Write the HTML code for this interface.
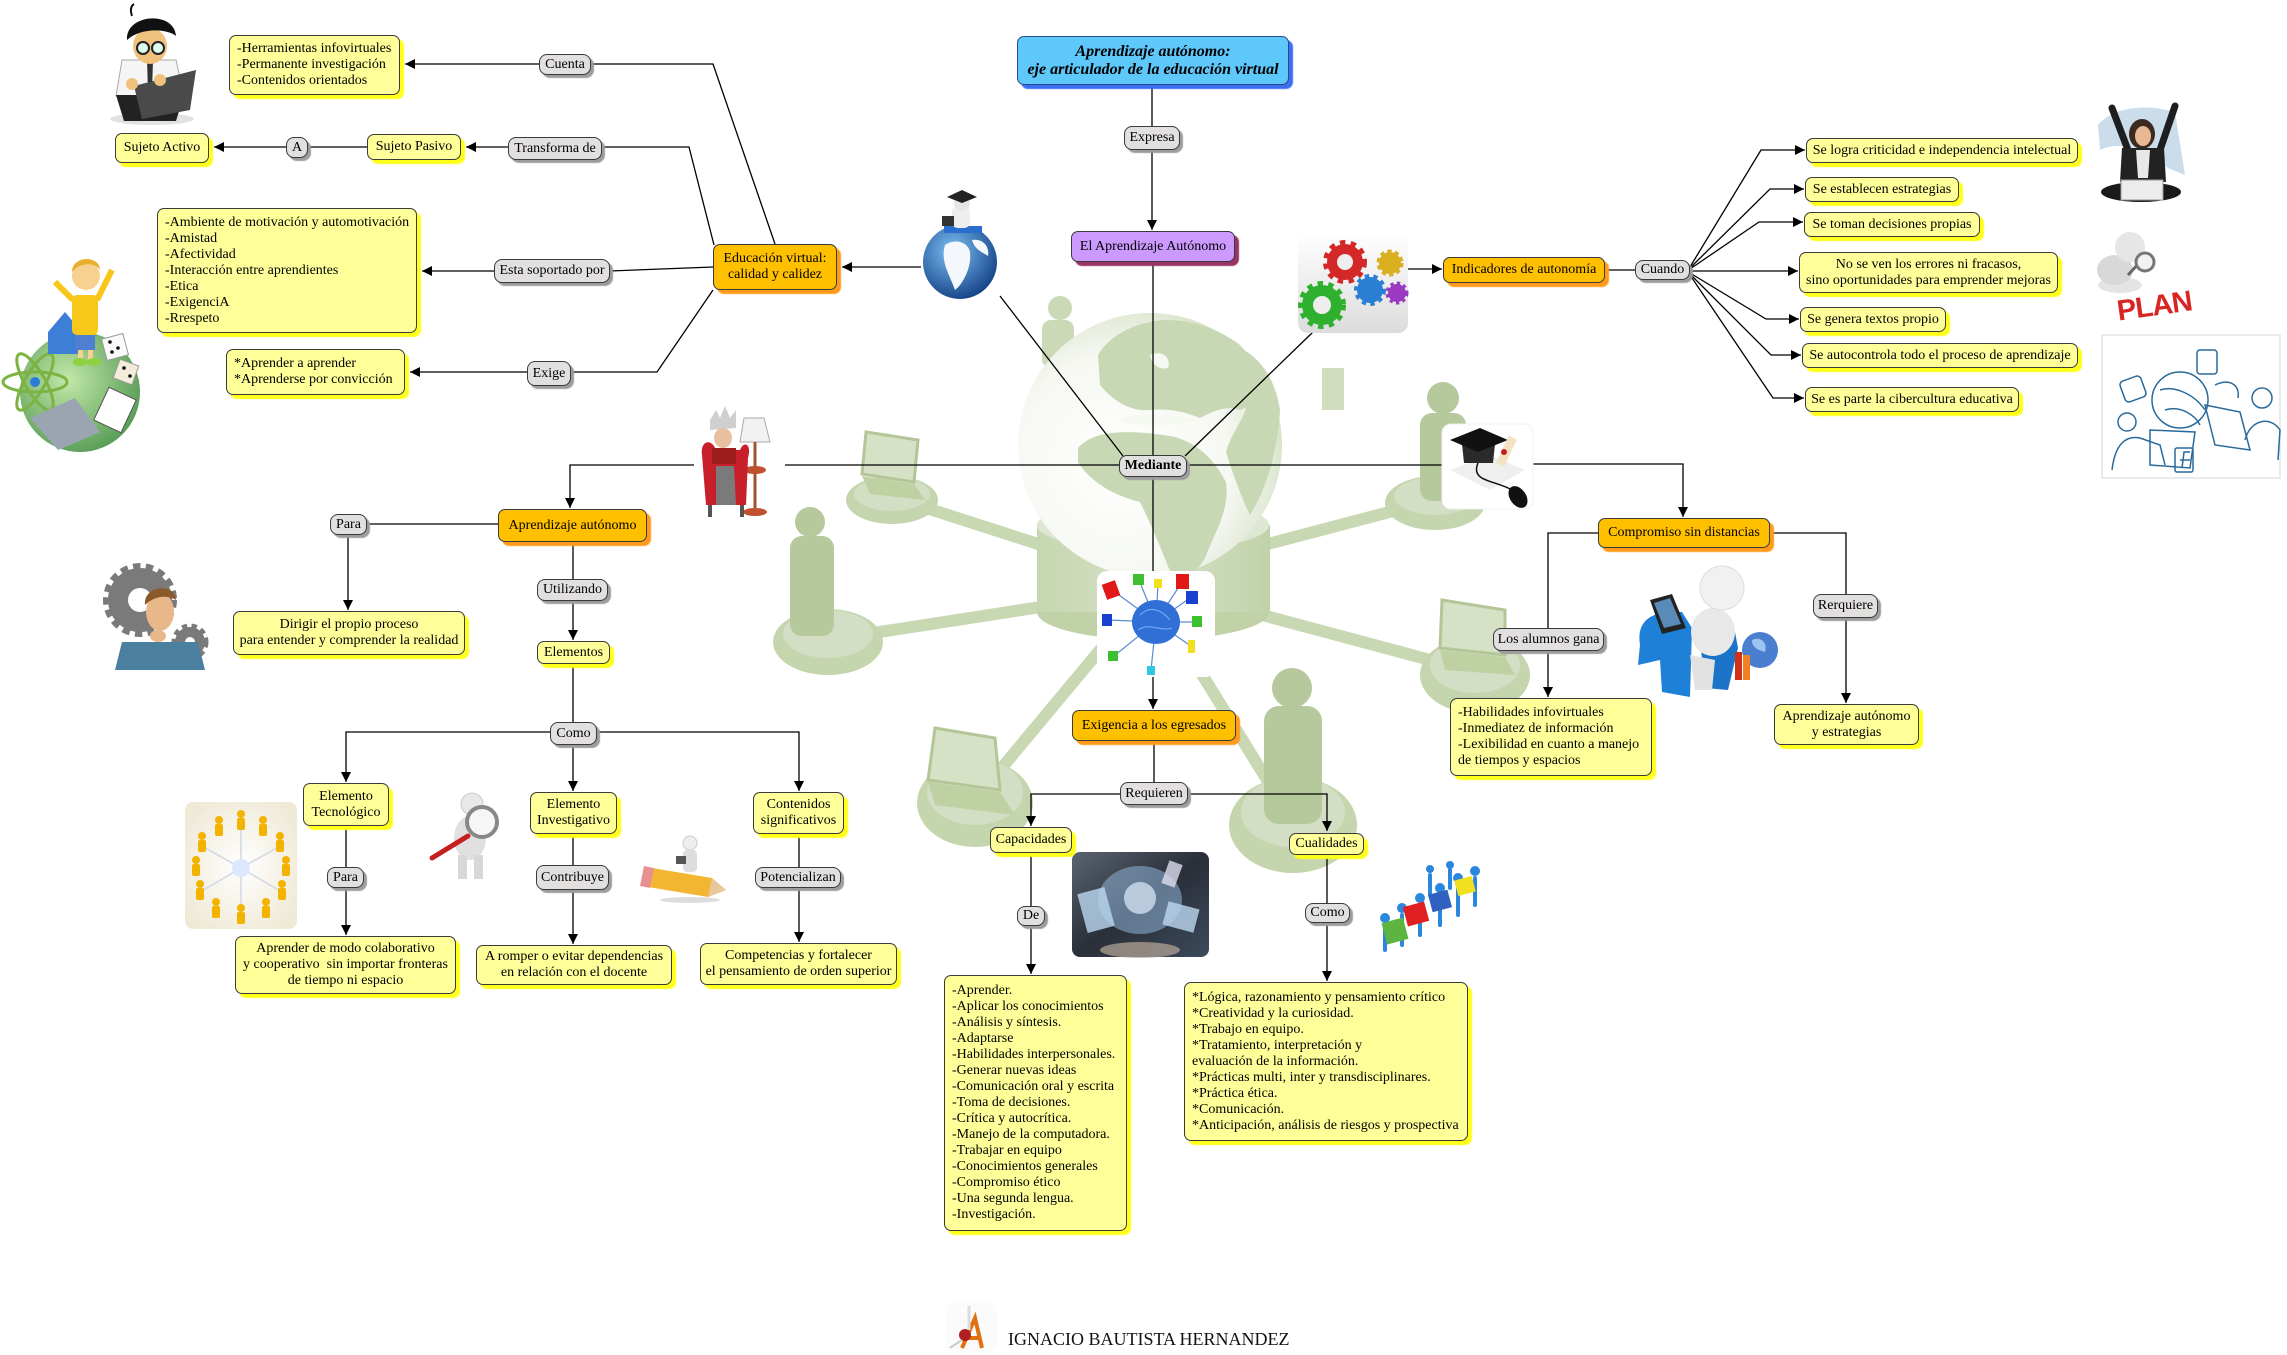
<!DOCTYPE html>
<html><head><meta charset="utf-8">
<style>
html,body{margin:0;padding:0;}
body{width:2287px;height:1355px;position:relative;background:#fff;overflow:hidden;font-family:"Liberation Serif",serif;}
.b{position:absolute;box-sizing:border-box;border:1px solid #3a3a3a;border-radius:7px;font-size:14px;line-height:16px;display:flex;flex-direction:column;justify-content:center;align-items:center;text-align:center;white-space:nowrap;color:#000;}
.y{background:#ffff99;box-shadow:4px 4px 1px #ffff1a;}
.o{background:#ffc000;box-shadow:4px 4px 1px #ff9a1a;}
.g{background:#e2dfdf;box-shadow:3px 3px 1px #9c9c9c;border-radius:8px;}
.p{background:#cc99ff;box-shadow:4px 4px 1px #993366;}
.t{background:#5ec8fb;box-shadow:4px 4px 1px #3c6ff0;border-color:#2a4a90;font-weight:bold;font-style:italic;font-size:16px;line-height:18px;}
.l{align-items:flex-start;text-align:left;padding-left:7px;}
svg{position:absolute;left:0;top:0;}
.ft{position:absolute;left:1008px;top:1329px;font-size:18px;line-height:20px;color:#111;white-space:nowrap;}
</style></head><body>
<svg width="2287" height="1355" viewBox="0 0 2287 1355">
<defs>
<marker id="ah" markerWidth="10" markerHeight="10" refX="10" refY="5" orient="auto" markerUnits="userSpaceOnUse"><path d="M0,0 L10,5 L0,10 z" fill="#000"/></marker>
<radialGradient id="gl" cx="38%" cy="58%" r="70%"><stop offset="0" stop-color="#ffffff"/><stop offset="0.6" stop-color="#f6f8f2"/><stop offset="0.85" stop-color="#dfe8d3"/><stop offset="1" stop-color="#c4d4ad"/></radialGradient>
<radialGradient id="bg1" cx="40%" cy="40%" r="70%"><stop offset="0" stop-color="#c2e8a8"/><stop offset="1" stop-color="#4f9650"/></radialGradient>
<radialGradient id="bl1" cx="40%" cy="35%" r="70%"><stop offset="0" stop-color="#7cc0f4"/><stop offset="1" stop-color="#123f85"/></radialGradient>
<linearGradient id="gw" x1="0" y1="0" x2="0" y2="1"><stop offset="0" stop-color="#fff"/><stop offset="1" stop-color="#dcdcdc"/></linearGradient>
<linearGradient id="th" x1="0" y1="0" x2="1" y2="1"><stop offset="0" stop-color="#5a6470"/><stop offset="0.5" stop-color="#2a2f38"/><stop offset="1" stop-color="#3c4a5c"/></linearGradient>
<radialGradient id="pc" cx="50%" cy="50%" r="60%"><stop offset="0" stop-color="#ffffff"/><stop offset="1" stop-color="#efe9d6"/></radialGradient>
<linearGradient id="cyl" x1="0" y1="0" x2="1" y2="0"><stop offset="0" stop-color="#c4d5ab"/><stop offset="0.5" stop-color="#d6e1c8"/><stop offset="1" stop-color="#bed0a4"/></linearGradient>
</defs>

<!-- background network -->
<g opacity="0.95">
<g stroke="#c6d6af" stroke-width="12" stroke-linecap="round">
<line x1="1150" y1="580" x2="892" y2="497"/>
<line x1="1150" y1="590" x2="828" y2="640"/>
<line x1="1150" y1="590" x2="975" y2="800"/>
<line x1="1150" y1="590" x2="1293" y2="822"/>
<line x1="1150" y1="585" x2="1475" y2="672"/>
<line x1="1150" y1="575" x2="1435" y2="500"/>
</g>
<ellipse cx="1153" cy="612" rx="116" ry="28" fill="#bed0a4"/>
<rect x="1037" y="525" width="233" height="87" fill="url(#cyl)"/>
<ellipse cx="1153" cy="525" rx="116" ry="26" fill="#dce6cf"/>
<!-- faded small person behind globe -->
<circle cx="1060" cy="308" r="12" fill="#c9d8b4"/>
<rect x="1042" y="320" width="32" height="48" rx="9" fill="#c9d8b4"/>
<rect x="1322" y="368" width="22" height="42" fill="#d0dcbd"/>
<circle cx="1150" cy="445" r="132" fill="url(#gl)"/>
<g fill="#c6d5b1">
<path d="M1098,355 C1110,335 1135,322 1165,320 C1195,320 1220,330 1240,345 L1262,370 C1265,390 1255,405 1240,410 C1225,405 1212,412 1200,418 C1185,412 1170,408 1150,410 C1130,412 1112,400 1100,385 Z"/>
<path d="M1244,350 C1262,360 1276,382 1280,410 C1278,450 1266,490 1250,515 C1240,495 1232,470 1226,452 C1232,432 1242,422 1246,408 Z"/>
<path d="M1078,448 C1095,428 1135,430 1175,437 C1198,444 1213,458 1226,482 C1230,510 1215,532 1205,558 C1196,575 1182,580 1172,576 C1160,546 1150,522 1140,502 C1115,496 1090,482 1078,462 Z"/>
</g>
<g fill="#f6f8f2">
<path d="M1118,420 C1140,412 1170,414 1198,420 C1175,427 1140,428 1118,420 Z"/>
<path d="M1150,355 C1160,350 1172,356 1168,368 C1160,370 1152,366 1150,355 Z"/>
</g>
<!-- discs -->
<g fill="#c2d3a9">
<ellipse cx="892" cy="500" rx="46" ry="24"/>
<ellipse cx="828" cy="642" rx="55" ry="33"/>
<ellipse cx="975" cy="803" rx="58" ry="44"/>
<ellipse cx="1293" cy="825" rx="64" ry="48"/>
<ellipse cx="1475" cy="675" rx="55" ry="38"/>
<ellipse cx="1435" cy="503" rx="50" ry="27"/>
</g>
<g fill="#d2ddc1">
<ellipse cx="892" cy="494" rx="38" ry="17"/>
<ellipse cx="828" cy="634" rx="45" ry="24"/>
<ellipse cx="975" cy="792" rx="48" ry="33"/>
<ellipse cx="1293" cy="812" rx="52" ry="35"/>
<ellipse cx="1475" cy="665" rx="45" ry="28"/>
<ellipse cx="1435" cy="496" rx="41" ry="19"/>
</g>
<!-- persons -->
<g fill="#b3c797">
<circle cx="810" cy="522" r="15"/><rect x="790" y="536" width="44" height="100" rx="12"/>
<circle cx="1292" cy="688" r="20"/><rect x="1264" y="706" width="58" height="118" rx="15"/>
<circle cx="1443" cy="398" r="16"/><rect x="1420" y="413" width="46" height="88" rx="12"/>
</g>
<!-- laptops -->
<g fill="#d4e0c3" stroke="#b0c493" stroke-width="3">
<path d="M866,432 L918,440 L914,482 L862,474 Z"/>
<path d="M935,728 L995,738 L1000,790 L928,780 Z"/>
<path d="M1442,600 L1505,610 L1505,655 L1440,648 Z"/>
</g>
<g fill="#bccf9f">
<path d="M862,476 L914,484 L925,500 L870,494 Z"/>
<path d="M928,782 L1000,792 L1015,815 L935,805 Z"/>
<path d="M1440,650 L1505,657 L1515,675 L1445,670 Z"/>
</g>
</g>

<!-- connectors -->
<g fill="none" stroke="#000" stroke-width="1.3">
<path d="M1152,85 V126"/>
<path d="M1152,150 V230" marker-end="url(#ah)"/>
<path d="M1153,262 V455"/>
<path d="M1000,296 L1123,456"/>
<path d="M1313,332 L1185,456"/>
<path d="M1153,477 V571"/>
<path d="M1153,677 V709" marker-end="url(#ah)"/>
<path d="M1154,741 V782"/>
<path d="M1120,794 H1031 V826" marker-end="url(#ah)"/>
<path d="M1188,794 H1327 V831" marker-end="url(#ah)"/>
<path d="M1031,853 V906"/>
<path d="M1031,926 V974" marker-end="url(#ah)"/>
<path d="M1327,855 V903"/>
<path d="M1327,923 V981" marker-end="url(#ah)"/>
<path d="M1119,465 H785"/>
<path d="M694,465 H570 V508" marker-end="url(#ah)"/>
<path d="M1187,465 H1442"/>
<path d="M1533,464 H1683 V517" marker-end="url(#ah)"/>
<path d="M1598,533 H1548 V628"/>
<path d="M1548,651 V697" marker-end="url(#ah)"/>
<path d="M1770,533 H1846 V594"/>
<path d="M1846,618 V703" marker-end="url(#ah)"/>
<path d="M1408,269 H1442" marker-end="url(#ah)"/>
<path d="M1605,270 H1635"/>
<path d="M1690,267 L1761,150 H1805" marker-end="url(#ah)"/>
<path d="M1690,268 L1770,189 H1804" marker-end="url(#ah)"/>
<path d="M1690,269 L1759,222 H1803" marker-end="url(#ah)"/>
<path d="M1690,271 H1798" marker-end="url(#ah)"/>
<path d="M1690,273 L1766,319 H1799" marker-end="url(#ah)"/>
<path d="M1690,274 L1771,355 H1801" marker-end="url(#ah)"/>
<path d="M1690,275 L1773,398 H1804" marker-end="url(#ah)"/>
<path d="M921,267 H842" marker-end="url(#ah)"/>
<path d="M775,244 L713,64 H591"/>
<path d="M539,64 H405" marker-end="url(#ah)"/>
<path d="M714,245 L689,147 H602"/>
<path d="M508,147 H466" marker-end="url(#ah)"/>
<path d="M367,147 H308"/>
<path d="M286,147 H214" marker-end="url(#ah)"/>
<path d="M713,267 L610,271"/>
<path d="M494,271 H422" marker-end="url(#ah)"/>
<path d="M713,290 L657,372 H571"/>
<path d="M527,372 H410" marker-end="url(#ah)"/>
<path d="M498,524 H367"/>
<path d="M348,535 V610" marker-end="url(#ah)"/>
<path d="M573,542 V579"/>
<path d="M573,601 V640" marker-end="url(#ah)"/>
<path d="M573,664 V722"/>
<path d="M550,732 H346 V782" marker-end="url(#ah)"/>
<path d="M573,745 V791" marker-end="url(#ah)"/>
<path d="M597,732 H799 V791" marker-end="url(#ah)"/>
<path d="M346,826 V867"/>
<path d="M346,888 V935" marker-end="url(#ah)"/>
<path d="M573,834 V865"/>
<path d="M573,890 V944" marker-end="url(#ah)"/>
<path d="M799,834 V867"/>
<path d="M799,888 V942" marker-end="url(#ah)"/>
</g>

<!-- images -->
<!-- nerd -->
<g>
<ellipse cx="152" cy="119" rx="42" ry="6" fill="#e2e2e2"/>
<path d="M122,60 L176,60 L184,96 L116,96 Z" fill="#f5f5f5" stroke="#aaa"/>
<path d="M147,60 L153,60 L152,92 L148,92Z" fill="#333"/>
<path d="M116,95 L184,95 L176,121 L124,121Z" fill="#222"/>
<path d="M134,86 L196,70 L190,110 L142,119 Z" fill="#4a4a4a"/>
<circle cx="132" cy="84" r="6" fill="#f1c27d"/><circle cx="160" cy="80" r="6" fill="#f1c27d"/>
<ellipse cx="150" cy="46" rx="17" ry="18" fill="#f1c27d"/>
<path d="M127,40 C125,14 174,10 176,36 C166,28 140,28 127,40 Z" fill="#111"/>
<path d="M132,16 C130,10 131,6 134,4" stroke="#111" stroke-width="2" fill="none"/>
<circle cx="143" cy="48" r="6" fill="#dfe" stroke="#222" stroke-width="2"/><circle cx="158" cy="48" r="6" fill="#dfe" stroke="#222" stroke-width="2"/>
</g>
<!-- boy on globe -->
<g>
<circle cx="80" cy="392" r="60" fill="url(#bg1)"/>
<g fill="none" stroke="#7cb342" stroke-width="3">
<ellipse cx="35" cy="382" rx="32" ry="10" transform="rotate(60 35 382)"/>
<ellipse cx="35" cy="382" rx="32" ry="10" transform="rotate(-60 35 382)"/>
<ellipse cx="35" cy="382" rx="32" ry="10"/>
</g>
<circle cx="35" cy="382" r="5" fill="#2d7bd6"/>
<path d="M30,418 L75,398 L100,432 L58,450 Z" fill="#9aa5b1"/>
<path d="M48,332 L65,312 L82,332 L82,354 L48,354 Z" fill="#3d7fd6"/>
<rect x="72" y="295" width="26" height="40" rx="5" fill="#f7c71a"/>
<path d="M73,300 L55,282 M97,300 L112,270" stroke="#f7c71a" stroke-width="6"/>
<circle cx="86" cy="276" r="14" fill="#f8d090"/>
<path d="M72,272 C72,255 100,255 100,270 C95,262 80,262 72,272Z" fill="#e8b030"/>
<rect x="75" y="335" width="20" height="15" fill="#4f7fd0"/>
<rect x="78" y="350" width="5" height="10" fill="#f8d090"/><rect x="88" y="350" width="5" height="10" fill="#f8d090"/>
<ellipse cx="80" cy="362" rx="7" ry="4" fill="#8fd040"/><ellipse cx="94" cy="362" rx="7" ry="4" fill="#8fd040"/>
<rect x="104" y="336" width="22" height="22" fill="#fafafa" stroke="#999" transform="rotate(-15 115 347)"/>
<rect x="116" y="362" width="20" height="20" fill="#f3ecd8" stroke="#999" transform="rotate(20 126 372)"/>
<g fill="#111"><circle cx="110" cy="342" r="1.8"/><circle cx="118" cy="348" r="1.8"/><circle cx="112" cy="352" r="1.8"/><circle cx="124" cy="368" r="1.8"/><circle cx="130" cy="376" r="1.8"/></g>
<rect x="100" y="392" width="30" height="36" fill="#fff" stroke="#555" transform="rotate(25 115 410)"/>
</g>
<!-- globe graduate -->
<g>
<circle cx="960" cy="262" r="37" fill="url(#bl1)"/>
<path d="M945,245 C955,238 968,242 970,252 C972,268 962,285 955,290 C950,275 940,262 945,245Z" fill="#f4f8fc"/>
<path d="M972,240 C982,238 990,246 988,256 C982,252 975,250 972,240Z" fill="#f4f8fc"/>
<rect x="944" y="226" width="38" height="7" fill="#2a6fd0"/>
<rect x="952" y="206" width="18" height="22" rx="6" fill="#eee"/>
<circle cx="962" cy="203" r="8" fill="#e6e6e6"/>
<path d="M947,197 L962,190 L977,197 L962,203 Z" fill="#222"/>
<rect x="942" y="216" width="12" height="10" fill="#333"/>
</g>
<!-- gears -->
<g>
<rect x="1298" y="233" width="110" height="100" rx="10" fill="url(#gw)"/>
<circle cx="1345" cy="262" r="18" fill="#d42828" stroke="#d42828" stroke-width="8" stroke-dasharray="5 5"/>
<circle cx="1345" cy="262" r="8" fill="#eee"/>
<circle cx="1322" cy="305" r="20" fill="#2fb12f" stroke="#2fb12f" stroke-width="8" stroke-dasharray="5 5"/>
<circle cx="1322" cy="305" r="9" fill="#eee"/>
<circle cx="1370" cy="290" r="13" fill="#2a7fd4" stroke="#2a7fd4" stroke-width="6" stroke-dasharray="4 4"/>
<circle cx="1390" cy="263" r="11" fill="#d8b020" stroke="#d8b020" stroke-width="5" stroke-dasharray="4 3"/>
<circle cx="1397" cy="293" r="9" fill="#9a3ac0" stroke="#9a3ac0" stroke-width="5" stroke-dasharray="3 3"/>
</g>
<!-- woman -->
<g>
<path d="M2098,125 C2110,110 2140,102 2175,112 L2185,175 L2168,168 C2150,150 2120,140 2100,150 Z" fill="#a8c4dc" opacity="0.6"/>
<path d="M2128,150 L2112,108 M2160,150 L2175,106" stroke="#1e1e1e" stroke-width="7" stroke-linecap="round"/>
<ellipse cx="2142" cy="134" rx="13" ry="15" fill="#3a2a20"/>
<ellipse cx="2143" cy="136" rx="8" ry="10" fill="#e8b894"/>
<path d="M2122,148 L2164,148 L2166,182 L2120,182 Z" fill="#222"/>
<path d="M2136,150 L2150,150 L2148,178 L2138,178Z" fill="#e8e8e8"/>
<ellipse cx="2141" cy="192" rx="40" ry="10" fill="#1a1a1a"/>
<rect x="2121" y="180" width="42" height="20" fill="#ececec" stroke="#999"/>
</g>
<!-- plan -->
<g>
<ellipse cx="2120" cy="285" rx="22" ry="8" fill="#e4e4e4"/>
<ellipse cx="2115" cy="270" rx="18" ry="15" fill="#d8d8d8"/>
<circle cx="2130" cy="247" r="15" fill="#e6e6e6"/>
<line x1="2128" y1="275" x2="2140" y2="262" stroke="#666" stroke-width="3"/>
<circle cx="2145" cy="262" r="9" fill="#f2f2f2" stroke="#777" stroke-width="3"/>
<text x="2116" y="316" font-family="Liberation Sans, sans-serif" font-weight="bold" font-size="29" fill="#d92424" transform="rotate(-8 2150 300)" letter-spacing="-1">PLAN</text>
</g>
<!-- sketch -->
<g fill="none" stroke="#2a6a9a" stroke-width="1.5">
<rect x="2102" y="335" width="178" height="143" stroke="#e4e4e4"/>
<circle cx="2180" cy="400" r="28"/>
<path d="M2160,390 C2175,385 2195,395 2205,410 M2165,410 C2180,405 2195,415 2200,425"/>
<rect x="2197" y="350" width="20" height="24" rx="3"/>
<rect x="2122" y="378" width="22" height="22" rx="4" transform="rotate(-20 2133 389)"/>
<path d="M2215,385 C2230,378 2240,385 2238,398"/>
<circle cx="2127" cy="422" r="9"/>
<path d="M2112,470 C2115,445 2125,435 2140,438 L2160,445 L2165,465"/>
<path d="M2150,430 L2195,432 L2190,468 L2150,465 Z"/>
<path d="M2205,405 L2240,412 L2250,450 L2215,445 Z"/>
<circle cx="2262" cy="398" r="10"/>
<path d="M2245,440 C2250,420 2270,415 2280,430 L2278,460"/>
<rect x="2175" y="448" width="18" height="24" rx="2"/>
<path d="M2182,468 L2184,452 L2190,452 M2180,460 L2190,460"/>
</g>
<!-- scholar -->
<g>
<path d="M744,418 L764,418 L770,442 L740,442 Z" fill="#f2f2f2" stroke="#aaa"/>
<line x1="755" y1="442" x2="755" y2="510" stroke="#a0522d" stroke-width="3"/>
<ellipse cx="755" cy="470" rx="11" ry="4" fill="#c05030"/>
<ellipse cx="755" cy="512" rx="12" ry="4" fill="#c05030"/>
<path d="M702,455 C700,440 712,438 716,450 L740,450 C744,440 752,444 748,458 L746,505 L706,505 Z" fill="#c8202a"/>
<rect x="708" y="505" width="4" height="12" fill="#555"/><rect x="740" y="505" width="4" height="12" fill="#555"/>
<path d="M710,420 L716,410 L720,418 L725,406 L730,418 L736,410 L736,428 L710,430Z" fill="#cfcfcf"/>
<ellipse cx="723" cy="438" rx="9" ry="10" fill="#e8c0a0"/>
<rect x="712" y="448" width="24" height="16" fill="#9c1c1c"/>
<path d="M716,466 L734,466 L736,505 L716,505 Z" fill="#7a7a7a"/>
</g>
<!-- cap + mouse -->
<g>
<rect x="1442" y="424" width="91" height="85" rx="9" fill="#fff" stroke="#f0f0f0"/>
<path d="M1450,470 L1490,455 L1525,470 L1490,490 Z" fill="#efefef"/>
<path d="M1462,444 L1495,444 L1493,463 L1464,463 Z" fill="#2a2a2a"/>
<path d="M1450,440 L1480,428 L1508,440 L1478,452 Z" fill="#111"/>
<rect x="1502" y="436" width="9" height="30" fill="#f3e3c3" transform="rotate(25 1506 451)"/>
<circle cx="1504" cy="452" r="3" fill="#c02020"/>
<path d="M1478,463 C1470,482 1495,480 1512,490" stroke="#111" stroke-width="1.5" fill="none"/>
<ellipse cx="1518" cy="497" rx="8" ry="12" transform="rotate(-35 1518 497)" fill="#111"/>
</g>
<!-- thinker -->
<g>
<circle cx="140" cy="600" r="32" fill="#7a7a7a" stroke="#7a7a7a" stroke-width="10" stroke-dasharray="7 5"/>
<circle cx="140" cy="600" r="12" fill="#fff"/>
<circle cx="190" cy="642" r="15" fill="#7a7a7a" stroke="#7a7a7a" stroke-width="7" stroke-dasharray="5 4"/>
<circle cx="190" cy="642" r="5" fill="#fff"/>
<path d="M122,642 L198,642 L205,670 L115,670 Z" fill="#4a7fa0"/>
<ellipse cx="160" cy="612" rx="14" ry="19" fill="#e8b88a"/>
<path d="M145,605 C143,585 175,582 176,600 C168,595 155,595 145,605 Z" fill="#8a5a2a"/>
<ellipse cx="158" cy="636" rx="8" ry="6" fill="#e8b88a"/>
</g>
<!-- people circle -->
<g>
<rect x="185" y="802" width="112" height="127" rx="8" fill="url(#pc)"/>
<g stroke="#d0d8e4" stroke-width="1.5">
<line x1="241" y1="868" x2="241" y2="822"/><line x1="241" y1="868" x2="241" y2="914"/>
<line x1="241" y1="868" x2="200" y2="845"/><line x1="241" y1="868" x2="282" y2="845"/>
<line x1="241" y1="868" x2="200" y2="892"/><line x1="241" y1="868" x2="282" y2="892"/>
</g>
<circle cx="241" cy="868" r="9" fill="#dde8ff"/>
<g fill="#f2b400">
<circle cx="241" cy="814" r="4"/><rect x="237" y="818" width="8" height="12" rx="2"/>
<circle cx="219" cy="820" r="4"/><rect x="215" y="824" width="8" height="12" rx="2"/>
<circle cx="263" cy="820" r="4"/><rect x="259" y="824" width="8" height="12" rx="2"/>
<circle cx="202" cy="836" r="4"/><rect x="198" y="840" width="8" height="12" rx="2"/>
<circle cx="280" cy="836" r="4"/><rect x="276" y="840" width="8" height="12" rx="2"/>
<circle cx="196" cy="860" r="4"/><rect x="192" y="864" width="8" height="12" rx="2"/>
<circle cx="286" cy="860" r="4"/><rect x="282" y="864" width="8" height="12" rx="2"/>
<circle cx="200" cy="884" r="4"/><rect x="196" y="888" width="8" height="12" rx="2"/>
<circle cx="282" cy="884" r="4"/><rect x="278" y="888" width="8" height="12" rx="2"/>
<circle cx="216" cy="902" r="4"/><rect x="212" y="906" width="8" height="12" rx="2"/>
<circle cx="266" cy="902" r="4"/><rect x="262" y="906" width="8" height="12" rx="2"/>
<circle cx="241" cy="908" r="4"/><rect x="237" y="912" width="8" height="12" rx="2"/>
</g>
</g>
<!-- magnifier man -->
<g>
<circle cx="472" cy="804" r="11" fill="#e8e8e8" stroke="#ccc"/>
<ellipse cx="470" cy="838" rx="16" ry="22" fill="#e0e0e0"/>
<rect x="458" y="855" width="9" height="24" fill="#d8d8d8"/><rect x="474" y="855" width="9" height="24" fill="#d8d8d8"/>
<line x1="468" y1="836" x2="432" y2="858" stroke="#c42020" stroke-width="5" stroke-linecap="round"/>
<circle cx="482" cy="822" r="15" fill="#f6f6f6" stroke="#888" stroke-width="4"/>
</g>
<!-- pencil man -->
<g>
<path d="M652,868 L712,878 L726,890 L708,897 L648,887 Z" fill="#f2b632"/>
<path d="M644,866 L654,868 L650,888 L640,886 Z" fill="#e89090"/>
<path d="M712,878 L726,890 L708,897 Z" fill="#e8c89a"/>
<ellipse cx="690" cy="900" rx="30" ry="3" fill="#ddd"/>
<circle cx="690" cy="843" r="7" fill="#eee" stroke="#ccc"/>
<rect x="683" y="850" width="14" height="22" rx="4" fill="#ddd"/>
<rect x="676" y="856" width="10" height="8" fill="#555"/>
</g>
<!-- puzzle brain -->
<g>
<rect x="1097" y="571" width="118" height="106" rx="10" fill="#fff"/>
<g stroke="#5a8ad0" stroke-width="1.2">
<line x1="1156" y1="622" x2="1112" y2="590"/><line x1="1156" y1="622" x2="1139" y2="580"/>
<line x1="1156" y1="622" x2="1158" y2="584"/><line x1="1156" y1="622" x2="1182" y2="582"/>
<line x1="1156" y1="622" x2="1190" y2="598"/><line x1="1156" y1="622" x2="1108" y2="620"/>
<line x1="1156" y1="622" x2="1196" y2="622"/><line x1="1156" y1="622" x2="1191" y2="646"/>
<line x1="1156" y1="622" x2="1114" y2="656"/><line x1="1156" y1="622" x2="1151" y2="670"/>
</g>
<ellipse cx="1156" cy="622" rx="24" ry="22" fill="#2f6fd6"/>
<path d="M1140,615 C1150,605 1162,610 1170,620 M1138,630 C1150,622 1160,632 1172,628" stroke="#7fb0f0" fill="none"/>
<rect x="1104" y="582" width="14" height="16" fill="#e01818" transform="rotate(-20 1111 590)"/>
<rect x="1133" y="574" width="11" height="11" fill="#3cc030"/>
<rect x="1154" y="579" width="8" height="9" fill="#f0e020"/>
<rect x="1176" y="574" width="13" height="15" fill="#e01818"/>
<rect x="1186" y="591" width="12" height="13" fill="#1a40d0"/>
<rect x="1102" y="614" width="10" height="12" fill="#1a40d0"/>
<rect x="1192" y="616" width="10" height="11" fill="#3cc030"/>
<rect x="1188" y="640" width="7" height="13" fill="#f0e020"/>
<rect x="1108" y="651" width="10" height="10" fill="#3cc030"/>
<rect x="1147" y="666" width="8" height="9" fill="#30c8e0"/>
</g>
<!-- tech hands -->
<g>
<rect x="1072" y="852" width="137" height="105" rx="8" fill="url(#th)"/>
<ellipse cx="1140" cy="900" rx="42" ry="34" fill="#8fb4d8" opacity="0.55"/>
<circle cx="1140" cy="898" r="16" fill="#cfdff0" opacity="0.8"/>
<rect x="1082" y="890" width="28" height="40" fill="#bcd8f0" opacity="0.8" transform="rotate(-15 1096 910)"/>
<rect x="1165" y="905" width="32" height="24" fill="#bcd8f0" opacity="0.8" transform="rotate(15 1181 917)"/>
<rect x="1165" y="862" width="14" height="24" fill="#dde" opacity="0.8" transform="rotate(20 1172 874)"/>
<ellipse cx="1140" cy="950" rx="40" ry="8" fill="#b8a898" opacity="0.7"/>
</g>
<!-- puzzle people -->
<g>
<g stroke="#2b86dd" stroke-width="4" stroke-linecap="round">
<line x1="1385" y1="925" x2="1385" y2="950"/><line x1="1402" y1="915" x2="1402" y2="945"/>
<line x1="1420" y1="905" x2="1420" y2="935"/><line x1="1440" y1="895" x2="1440" y2="925"/>
<line x1="1458" y1="885" x2="1458" y2="915"/><line x1="1475" y1="878" x2="1475" y2="905"/>
<line x1="1430" y1="875" x2="1430" y2="895"/><line x1="1450" y1="870" x2="1450" y2="888"/>
</g>
<g fill="#2b86dd">
<circle cx="1385" cy="918" r="5"/><circle cx="1402" cy="908" r="5"/><circle cx="1420" cy="898" r="5"/>
<circle cx="1440" cy="888" r="5"/><circle cx="1458" cy="878" r="5"/><circle cx="1475" cy="871" r="5"/>
<circle cx="1430" cy="869" r="4"/><circle cx="1450" cy="865" r="4"/>
</g>
<rect x="1384" y="920" width="22" height="22" fill="#5bb540" transform="rotate(-15 1395 931)"/>
<rect x="1405" y="904" width="22" height="20" fill="#e02020" transform="rotate(-15 1416 914)"/>
<rect x="1430" y="892" width="20" height="18" fill="#3060c0" transform="rotate(-15 1440 901)"/>
<rect x="1456" y="878" width="18" height="16" fill="#f0e020" transform="rotate(-15 1465 886)"/>
</g>
<!-- person at laptop -->
<g>
<path d="M1640,645 C1636,620 1652,610 1682,612 L1692,628 L1690,697 L1662,692 L1660,660 L1638,665 Z" fill="#1f80d8"/>
<path d="M1700,640 L1735,632 L1738,648 L1728,690 L1705,688 Z" fill="#1b74c8"/>
<ellipse cx="1713" cy="632" rx="22" ry="24" fill="#e8e8e8"/>
<circle cx="1722" cy="588" r="22" fill="#f1f1f1" stroke="#ddd"/>
<path d="M1690,655 L1715,660 L1712,690 L1695,690 Z" fill="#e2e2e2"/>
<path d="M1650,600 L1672,594 L1686,628 L1662,634 Z" fill="#222"/>
<path d="M1654,603 L1670,598 L1681,624 L1664,628 Z" fill="#5a8ab8"/>
<circle cx="1760" cy="650" r="18" fill="#4a7fd0"/>
<path d="M1752,640 C1760,636 1768,642 1765,652 C1758,650 1752,648 1752,640Z" fill="#9cc4f0"/>
<rect x="1735" y="652" width="7" height="28" fill="#d0301a"/><rect x="1743" y="655" width="7" height="25" fill="#f08020"/>
</g>
<!-- footer logo -->
<g>
<rect x="946" y="1303" width="51" height="49" rx="8" fill="#fbfbfb"/>
<path d="M962,1348 L975,1318 L982,1348 M966,1338 L980,1338" stroke="#e07010" stroke-width="4" fill="none"/>
<circle cx="965" cy="1335" r="6" fill="#b02020"/>
<line x1="969" y1="1306" x2="969" y2="1330" stroke="#ddd" stroke-width="3"/>
<line x1="950" y1="1348" x2="962" y2="1340" stroke="#ccc" stroke-width="2"/>
</g>
</svg>

<!-- nodes -->
<div class="b t" style="left:1017px;top:36px;width:272px;height:49px;"><div>Aprendizaje autónomo:<br>eje articulador de la educación virtual</div></div>
<div class="b g" style="left:1124px;top:126px;width:56px;height:24px;">Expresa</div>
<div class="b p" style="left:1071px;top:231px;width:164px;height:31px;">El Aprendizaje Autónomo</div>
<div class="b g" style="left:1119px;top:455px;width:68px;height:22px;font-weight:bold;">Mediante</div>

<div class="b o" style="left:713px;top:244px;width:124px;height:46px;"><div>Educación virtual:<br>calidad y calidez</div></div>
<div class="b g" style="left:539px;top:54px;width:52px;height:21px;">Cuenta</div>
<div class="b y l" style="left:229px;top:35px;width:171px;height:60px;"><div>-Herramientas infovirtuales<br>-Permanente investigación<br>-Contenidos orientados</div></div>
<div class="b y" style="left:115px;top:133px;width:94px;height:30px;">Sujeto Activo</div>
<div class="b g" style="left:286px;top:137px;width:22px;height:21px;">A</div>
<div class="b y" style="left:367px;top:134px;width:94px;height:26px;">Sujeto Pasivo</div>
<div class="b g" style="left:508px;top:137px;width:94px;height:23px;">Transforma de</div>
<div class="b y l" style="left:157px;top:208px;width:260px;height:125px;"><div>-Ambiente de motivación y automotivación<br>-Amistad<br>-Afectividad<br>-Interacción entre aprendientes<br>-Etica<br>-ExigenciA<br>-Rrespeto</div></div>
<div class="b g" style="left:494px;top:259px;width:116px;height:24px;">Esta soportado por</div>
<div class="b y l" style="left:226px;top:349px;width:179px;height:46px;"><div>*Aprender a aprender<br>*Aprenderse por convicción</div></div>
<div class="b g" style="left:527px;top:361px;width:44px;height:25px;">Exige</div>

<div class="b o" style="left:1443px;top:257px;width:162px;height:26px;">Indicadores de autonomía</div>
<div class="b g" style="left:1635px;top:260px;width:55px;height:20px;">Cuando</div>
<div class="b y" style="left:1806px;top:138px;width:272px;height:25px;">Se logra criticidad e independencia intelectual</div>
<div class="b y" style="left:1805px;top:177px;width:154px;height:25px;">Se establecen estrategias</div>
<div class="b y" style="left:1804px;top:212px;width:176px;height:25px;">Se toman decisiones propias</div>
<div class="b y" style="left:1799px;top:252px;width:259px;height:41px;"><div>No se ven los errores ni fracasos,<br>sino oportunidades para emprender mejoras</div></div>
<div class="b y" style="left:1800px;top:307px;width:146px;height:25px;">Se genera textos propio</div>
<div class="b y" style="left:1802px;top:343px;width:276px;height:25px;">Se autocontrola todo el proceso de aprendizaje</div>
<div class="b y" style="left:1805px;top:387px;width:214px;height:25px;">Se es parte la cibercultura educativa</div>

<div class="b o" style="left:498px;top:509px;width:149px;height:33px;">Aprendizaje autónomo</div>
<div class="b g" style="left:330px;top:514px;width:37px;height:21px;">Para</div>
<div class="b y" style="left:233px;top:611px;width:232px;height:44px;"><div>Dirigir el propio proceso<br>para entender y comprender la realidad</div></div>
<div class="b g" style="left:537px;top:579px;width:71px;height:22px;">Utilizando</div>
<div class="b y" style="left:537px;top:641px;width:73px;height:23px;">Elementos</div>
<div class="b g" style="left:550px;top:722px;width:47px;height:23px;">Como</div>
<div class="b y" style="left:303px;top:783px;width:86px;height:43px;"><div>Elemento<br>Tecnológico</div></div>
<div class="b y" style="left:530px;top:792px;width:87px;height:42px;"><div>Elemento<br>Investigativo</div></div>
<div class="b y" style="left:753px;top:792px;width:91px;height:42px;"><div>Contenidos<br>significativos</div></div>
<div class="b g" style="left:327px;top:867px;width:37px;height:21px;">Para</div>
<div class="b g" style="left:536px;top:865px;width:73px;height:25px;">Contribuye</div>
<div class="b g" style="left:755px;top:867px;width:86px;height:21px;">Potencializan</div>
<div class="b y" style="left:235px;top:936px;width:221px;height:58px;"><div>Aprender de modo colaborativo<br>y cooperativo&nbsp; sin importar fronteras<br>de tiempo ni espacio</div></div>
<div class="b y" style="left:476px;top:945px;width:196px;height:40px;"><div>A romper o evitar dependencias<br>en relación con el docente</div></div>
<div class="b y" style="left:700px;top:943px;width:197px;height:42px;"><div>Competencias y fortalecer<br>el pensamiento de orden superior</div></div>

<div class="b o" style="left:1072px;top:710px;width:164px;height:31px;">Exigencia a los egresados</div>
<div class="b g" style="left:1120px;top:782px;width:68px;height:23px;">Requieren</div>
<div class="b y" style="left:990px;top:827px;width:82px;height:26px;">Capacidades</div>
<div class="b y" style="left:1289px;top:833px;width:75px;height:22px;">Cualidades</div>
<div class="b g" style="left:1017px;top:906px;width:28px;height:20px;">De</div>
<div class="b g" style="left:1305px;top:903px;width:45px;height:20px;">Como</div>
<div class="b y l" style="left:944px;top:975px;width:183px;height:256px;"><div>-Aprender.<br>-Aplicar los conocimientos<br>-Análisis y síntesis.<br>-Adaptarse<br>-Habilidades interpersonales.<br>-Generar nuevas ideas<br>-Comunicación oral y escrita<br>-Toma de decisiones.<br>-Crítica y autocrítica.<br>-Manejo de la computadora.<br>-Trabajar en equipo<br>-Conocimientos generales<br>-Compromiso ético<br>-Una segunda lengua.<br>-Investigación.</div></div>
<div class="b y l" style="left:1184px;top:982px;width:284px;height:159px;"><div>*Lógica, razonamiento y pensamiento crítico<br>*Creatividad y la curiosidad.<br>*Trabajo en equipo.<br>*Tratamiento, interpretación y<br>evaluación de la información.<br>*Prácticas multi, inter y transdisciplinares.<br>*Práctica ética.<br>*Comunicación.<br>*Anticipación, análisis de riesgos y prospectiva</div></div>

<div class="b o" style="left:1598px;top:518px;width:172px;height:30px;">Compromiso sin distancias</div>
<div class="b g" style="left:1493px;top:628px;width:111px;height:23px;">Los alumnos gana</div>
<div class="b y l" style="left:1450px;top:698px;width:202px;height:78px;"><div>-Habilidades infovirtuales<br>-Inmediatez de información<br>-Lexibilidad en cuanto a manejo<br>de tiempos y espacios</div></div>
<div class="b g" style="left:1813px;top:594px;width:65px;height:24px;">Rerquiere</div>
<div class="b y" style="left:1774px;top:704px;width:145px;height:41px;"><div>Aprendizaje autónomo<br>y estrategias</div></div>

<div class="ft">IGNACIO BAUTISTA HERNANDEZ</div>
</body></html>
